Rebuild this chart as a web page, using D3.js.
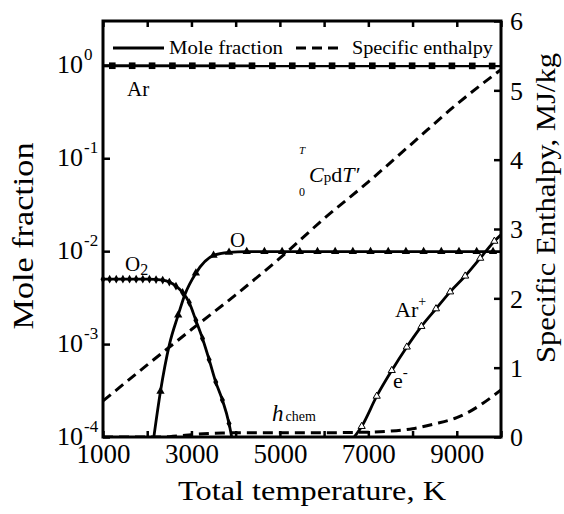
<!DOCTYPE html>
<html>
<head>
<meta charset="utf-8">
<script src="https://cdn.jsdelivr.net/npm/d3@7"></script>
<style>
body { margin: 0; background: #fff; }
text { font-family: "Liberation Serif", "Times New Roman", serif; fill: #000; }
</style>
</head>
<body>
<div id="output"></div>
<script>
// ticks
var tempTicks = [1000, 2000, 3000, 4000, 5000, 6000, 7000, 8000, 9000, 10000];
var tempLabels = [1000, 3000, 5000, 7000, 9000];
var fracTicks = [1e-4, 1e-3, 1e-2, 1e-1, 1];
var fracExp = ["-4", "-3", "-2", "-1", "0"];
var enthTicks = [0, 1, 2, 3, 4, 5, 6];

// Ar
var arT = [1000, 10000];
var arY = [0.99, 0.985];
var arMarkT = [1210, 1660, 2110, 2570, 3020, 3470, 3920, 4370, 4830, 5280, 5730, 6180, 6630, 7090, 7540, 7990, 8440, 8890, 9350, 9800];
var arMarkY = [0.99, 0.99, 0.99, 0.99, 0.99, 0.99, 0.99, 0.99, 0.99, 0.99, 0.99, 0.99, 0.99, 0.99, 0.99, 0.99, 0.99, 0.988, 0.987, 0.985];

// O2
var o2T = [1000, 1150, 1300, 1450, 1600, 1750, 1900, 2050, 2200, 2350, 2500, 2650, 2800, 2950, 3100, 3250, 3400, 3550, 3700, 3850, 3910];
var o2Y = [0.0050, 0.0050, 0.0050, 0.0050, 0.0050, 0.0050, 0.0050, 0.0050, 0.00495, 0.00488, 0.00465, 0.0042, 0.0036, 0.0028, 0.0018, 0.00115, 0.00068, 0.00039, 0.00025, 0.00014, 0.0001];
var o2MarkT = [1000, 1150, 1300, 1450, 1600, 1750, 1900, 2050, 2200, 2350, 2500, 2650, 2800, 2950, 3100, 3250, 3400, 3550, 3700, 3850];
var o2MarkY = [0.0050, 0.0050, 0.0050, 0.0050, 0.0050, 0.0050, 0.0050, 0.0050, 0.00495, 0.00488, 0.00465, 0.0042, 0.0036, 0.0028, 0.0018, 0.00115, 0.00068, 0.00039, 0.00025, 0.00014];

// O
var oT = [2150, 2300, 2500, 2700, 2850, 3100, 3500, 3850, 4250, 5000, 6000, 7000, 8000, 9000, 10000];
var oY = [0.0001, 0.00031, 0.00098, 0.00205, 0.0034, 0.0058, 0.0090, 0.0097, 0.0099, 0.0099, 0.0099, 0.0099, 0.0099, 0.0099, 0.0099];
var oMarkT = [2300, 2700, 3100, 3500, 3850, 4250, 4650, 5050, 5450, 5850, 6250, 6650, 7050, 7450, 7850, 8250, 8650, 9050, 9450, 9820];
var oMarkY = [0.00031, 0.00205, 0.0058, 0.0090, 0.0097, 0.0099, 0.0099, 0.0099, 0.0099, 0.0099, 0.0099, 0.0099, 0.0099, 0.0099, 0.0099, 0.0099, 0.0099, 0.0099, 0.0099, 0.0099];

// Ar+ / e-
var arpT = [6680, 6850, 7190, 7530, 7870, 8200, 8530, 8850, 9190, 9530, 9850, 10000];
var arpY = [0.0001, 0.00013, 0.000275, 0.00052, 0.00093, 0.00155, 0.0024, 0.00365, 0.0054, 0.0084, 0.0128, 0.015];
var arpMarkT = [6850, 7190, 7530, 7870, 8200, 8530, 8850, 9190, 9530, 9850];
var arpMarkY = [0.00013, 0.000275, 0.00052, 0.00093, 0.00155, 0.0024, 0.00365, 0.0054, 0.0084, 0.0128];

// specific enthalpy, MJ/kg
var hTotT = [1000, 2000, 3000, 4000, 5000, 6000, 7000, 8000, 9000, 10000];
var hTotY = [0.52, 1.04, 1.55, 2.05, 2.58, 3.15, 3.68, 4.24, 4.80, 5.30];
var hChemT = [1000, 2200, 2500, 2800, 3100, 3400, 3700, 4000, 6000, 7000, 7500, 8000, 8500, 9000, 9300, 9600, 10000];
var hChemY = [0, 0, 0.005, 0.02, 0.04, 0.052, 0.058, 0.06, 0.062, 0.07, 0.085, 0.12, 0.19, 0.28, 0.37, 0.49, 0.68];

function zip(a, b) {
    return a.map(function (d, i) { return [d, b[i]]; });
}

var w = 564;
var h = 514;
var pLeft = 103, pRight = 501, pTop = 21, pBottom = 437;

var x = d3.scaleLinear().domain([1000, 10000]).range([pLeft, pRight]);
var y = d3.scaleLog().domain([1e-4, 3]).range([pBottom, pTop]);
var yR = d3.scaleLinear().domain([0, 6]).range([pBottom, pTop]);

var svg = d3.select("#output").append("svg")
    .attr("width", w)
    .attr("height", h);

svg.append("clipPath").attr("id", "plot")
    .append("rect")
    .attr("x", pLeft).attr("y", pTop)
    .attr("width", pRight - pLeft).attr("height", pBottom - pTop);

// axes with inward ticks
svg.append("g")
    .attr("transform", "translate(0," + pBottom + ")")
    .call(d3.axisBottom(x).tickValues(tempTicks).tickSize(-6).tickPadding(6)
        .tickFormat(function (d) { return tempLabels.indexOf(d) >= 0 ? d : ""; }))
    .call(function (g) {
        g.select(".domain").remove();
        g.selectAll(".tick line").attr("stroke-width", 2.5);
        g.selectAll(".tick text").attr("font-size", 27).attr("font-family", "Liberation Serif").attr("dy", "0.75em");
    });

svg.append("g")
    .attr("transform", "translate(0," + pTop + ")")
    .call(d3.axisTop(x).tickValues(tempTicks).tickSize(-6).tickFormat(""))
    .call(function (g) {
        g.select(".domain").remove();
        g.selectAll(".tick line").attr("stroke-width", 2.5);
    });

svg.append("g")
    .attr("transform", "translate(" + pLeft + ",0)")
    .call(d3.axisLeft(y).tickValues(fracTicks).tickSize(-7).tickFormat(""))
    .call(function (g) {
        g.select(".domain").remove();
        g.selectAll(".tick line").attr("stroke-width", 2.5);
    });

svg.append("g")
    .attr("transform", "translate(" + pRight + ",0)")
    .call(d3.axisRight(yR).tickValues(enthTicks).tickSize(-7).tickPadding(9)
        .tickFormat(d3.format("d")))
    .call(function (g) {
        g.select(".domain").remove();
        g.selectAll(".tick line").attr("stroke-width", 2.5);
        g.selectAll(".tick text").attr("font-size", 26).attr("font-family", "Liberation Serif").attr("dy", "0.34em");
    });

// 10^n labels on the left
var fl = svg.append("g").selectAll("g")
    .data(fracTicks)
    .enter()
    .append("g")
    .attr("transform", function (d) { return "translate(0," + y(d) + ")"; });
fl.append("text")
    .attr("x", 83).attr("y", 8)
    .attr("text-anchor", "end")
    .attr("font-size", 26)
    .text("10");
fl.append("text")
    .attr("x", 84).attr("y", -5)
    .attr("font-size", 17)
    .text(function (d, i) { return fracExp[i]; });

// frame
svg.append("rect")
    .attr("x", pLeft).attr("y", pTop)
    .attr("width", pRight - pLeft).attr("height", pBottom - pTop)
    .attr("fill", "none").attr("stroke", "#000").attr("stroke-width", 3);

var plot = svg.append("g").attr("clip-path", "url(#plot)");

var lineL = d3.line()
    .x(function (d) { return x(d[0]); })
    .y(function (d) { return y(d[1]); })
    .curve(d3.curveMonotoneX);

var lineR = d3.line()
    .x(function (d) { return x(d[0]); })
    .y(function (d) { return yR(d[1]); })
    .curve(d3.curveMonotoneX);

[zip(arT, arY), zip(o2T, o2Y), zip(oT, oY), zip(arpT, arpY)].forEach(function (s) {
    plot.append("path")
        .datum(s)
        .attr("d", lineL)
        .attr("fill", "none")
        .attr("stroke", "#000")
        .attr("stroke-width", 2.8);
});

[zip(hTotT, hTotY), zip(hChemT, hChemY)].forEach(function (s) {
    plot.append("path")
        .datum(s)
        .attr("d", lineR)
        .attr("fill", "none")
        .attr("stroke", "#000")
        .attr("stroke-width", 3)
        .attr("stroke-dasharray", "10,6");
});

function marks(data, type, size, open) {
    svg.append("g").selectAll("path")
        .data(data)
        .enter()
        .append("path")
        .attr("transform", function (d) { return "translate(" + x(d[0]) + "," + y(d[1]) + ")"; })
        .attr("d", d3.symbol().type(type).size(size))
        .attr("fill", open ? "#fff" : "#000")
        .attr("stroke", "#000")
        .attr("stroke-width", open ? 1 : 0);
}

marks(zip(arMarkT, arMarkY), d3.symbolSquare, 44, false);
marks(zip(o2MarkT, o2MarkY), d3.symbolDiamond, 22, false);
marks(zip(oMarkT, oMarkY), d3.symbolTriangle, 30, false);
marks(zip(arpMarkT, arpMarkY), d3.symbolTriangle, 22, true);

// legend
svg.append("line")
    .attr("x1", 113).attr("x2", 164).attr("y1", 48).attr("y2", 48)
    .attr("stroke", "#000").attr("stroke-width", 2.8);
svg.append("text")
    .attr("x", 169).attr("y", 54)
    .attr("font-size", 19)
    .attr("textLength", 114).attr("lengthAdjust", "spacingAndGlyphs")
    .text("Mole fraction");
svg.append("line")
    .attr("x1", 296).attr("x2", 344).attr("y1", 48).attr("y2", 48)
    .attr("stroke", "#000").attr("stroke-width", 3)
    .attr("stroke-dasharray", "10,6");
svg.append("text")
    .attr("x", 352).attr("y", 54)
    .attr("font-size", 19)
    .attr("textLength", 141).attr("lengthAdjust", "spacingAndGlyphs")
    .text("Specific enthalpy");

// species labels
svg.append("text").attr("x", 127).attr("y", 96).attr("font-size", 21).text("Ar");
var o2l = svg.append("text").attr("x", 125).attr("y", 271).attr("font-size", 21);
o2l.append("tspan").text("O");
o2l.append("tspan").attr("font-size", 16).attr("dy", 4).text("2");
svg.append("text").attr("x", 230).attr("y", 247).attr("font-size", 21).text("O");
var arpl = svg.append("text").attr("x", 395).attr("y", 317).attr("font-size", 22);
arpl.append("tspan").text("Ar");
arpl.append("tspan").attr("font-size", 14).attr("dy", -11).text("+");
var el = svg.append("text").attr("x", 393).attr("y", 388).attr("font-size", 22);
el.append("tspan").text("e");
el.append("tspan").attr("font-size", 15).attr("dy", -11).text("-");

var hl = svg.append("text").attr("x", 272).attr("y", 421).attr("font-size", 23);
hl.append("tspan").attr("font-style", "italic").text("h");
hl.append("tspan").attr("font-size", 14).attr("dx", 2).text("chem");

svg.append("text").attr("x", 299).attr("y", 154).attr("font-size", 11).attr("font-style", "italic").text("T");
svg.append("text").attr("x", 299).attr("y", 196).attr("font-size", 12).text("0");
var cp = svg.append("text").attr("x", 309).attr("y", 182).attr("font-size", 22);
cp.append("tspan").attr("font-style", "italic").text("C");
cp.append("tspan").attr("font-size", 15).text("p");
cp.append("tspan").text("d");
cp.append("tspan").attr("font-style", "italic").text("T′");

// axis titles
svg.append("text")
    .attr("x", 312).attr("y", 500)
    .attr("text-anchor", "middle")
    .attr("font-size", 28)
    .attr("textLength", 268).attr("lengthAdjust", "spacingAndGlyphs")
    .text("Total temperature, K");

svg.append("text")
    .attr("transform", "translate(33,236) rotate(-90)")
    .attr("text-anchor", "middle")
    .attr("font-size", 29)
    .attr("textLength", 187).attr("lengthAdjust", "spacingAndGlyphs")
    .text("Mole fraction");

svg.append("text")
    .attr("transform", "translate(555,208) rotate(-90)")
    .attr("text-anchor", "middle")
    .attr("font-size", 27)
    .attr("textLength", 310).attr("lengthAdjust", "spacingAndGlyphs")
    .text("Specific Enthalpy, MJ/kg");
</script>
</body>
</html>
